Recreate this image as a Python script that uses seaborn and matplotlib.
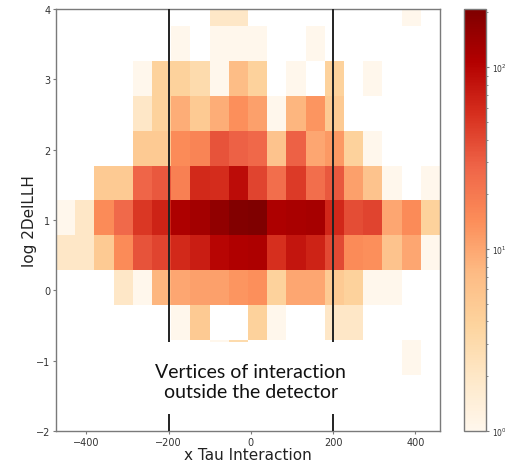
import numpy as np
import pandas as pd
import matplotlib
matplotlib.use("Agg")
import matplotlib.pyplot as plt
from matplotlib.colors import LogNorm
from matplotlib.patches import Rectangle
import seaborn as sns

# Bin edges of the 2D histogram
x_edges = np.linspace(-474, 460, 21)
y_edges = np.linspace(-2.194, 4.254, 14)

# Event counts per bin; rows run from the top y bin down to the bottom one
counts = [
    [0, 0, 0, 0, 0, 0, 0, 0, 2, 2, 0, 0, 0, 0, 0, 0, 0, 0, 1, 0],
    [0, 0, 0, 0, 0, 0, 1, 0, 1, 1, 1, 0, 0, 1, 0, 0, 0, 0, 0, 0],
    [0, 0, 0, 0, 1, 4, 4, 3, 1, 7, 4, 0, 1, 0, 4, 0, 1, 0, 0, 0],
    [0, 0, 0, 0, 2, 4, 9, 5, 9, 14, 11, 1, 8, 13, 5, 0, 0, 0, 0, 0],
    [0, 0, 0, 0, 5, 5, 15, 17, 35, 30, 27, 6, 30, 10, 12, 4, 1, 0, 0, 0],
    [0, 0, 5, 5, 28, 33, 18, 60, 58, 90, 42, 24, 48, 24, 33, 11, 6, 1, 0, 1],
    [1, 2, 15, 26, 50, 65, 115, 130, 165, 200, 209, 115, 120, 125, 62, 38, 42, 10, 15, 4],
    [2, 2, 5, 15, 35, 42, 60, 72, 100, 110, 115, 55, 80, 65, 40, 15, 14, 6, 10, 1],
    [0, 0, 0, 2, 1, 8, 10, 11, 11, 13, 14, 4, 10, 10, 5, 4, 1, 1, 0, 0],
    [0, 0, 0, 0, 0, 0, 1, 5, 0, 0, 4, 1, 0, 0, 2, 2, 0, 0, 0, 0],
    [0, 0, 0, 0, 0, 0, 0, 0, 1, 3, 0, 0, 0, 0, 0, 0, 0, 0, 1, 0],
    [0, 0, 0, 0, 0, 0, 0, 0, 0, 0, 0, 0, 0, 0, 0, 0, 0, 0, 0, 0],
    [0, 0, 0, 0, 0, 0, 0, 0, 0, 0, 0, 0, 0, 0, 0, 0, 0, 0, 0, 0],
]

x_ticks = [-400, -200, 0, 200, 400]
y_ticks = [-2, -1, 0, 1, 2, 3, 4]
detector_edges = [-200, 200]
note = "Vertices of interaction\noutside the detector"

sns.set_style("ticks")
plt.rcParams.update({
    "axes.edgecolor": "#7a7a7a",
    "xtick.color": "#7a7a7a",
    "ytick.color": "#7a7a7a",
    "xtick.labelcolor": "#333333",
    "ytick.labelcolor": "#333333",
    "axes.linewidth": 1.0,
})

grid = np.array(counts, dtype=float)
xc = 0.5 * (x_edges[:-1] + x_edges[1:])
yc = (0.5 * (y_edges[:-1] + y_edges[1:]))[::-1]
X, Y = np.meshgrid(xc, yc)
df = pd.DataFrame({"x": X.ravel(), "y": Y.ravel(), "n": grid.ravel()})

fig = plt.figure(figsize=(5.06, 4.64), dpi=100)
ax = fig.add_axes([56 / 506, 32 / 464, 384 / 506, 422 / 464])
cax = fig.add_axes([464 / 506, 32 / 464, 22 / 506, 422 / 464])

sns.histplot(data=df, x="x", y="y", weights="n", bins=[x_edges, y_edges],
             cmap="OrRd", ax=ax, cbar=False)
mesh = ax.collections[0]
mesh.set_norm(LogNorm(vmin=1, vmax=grid.max()))

for xv in detector_edges:
    ax.axvline(xv, color="#222222", lw=1.4, zorder=3)

ax.add_patch(Rectangle((-245, -1.76), 490, 1.025, facecolor="white",
                       edgecolor="none", zorder=4))
ax.text(0, -1.30, note, ha="center", va="center", fontsize=14,
        family="Lato", color="#111111", linespacing=1.22, zorder=5)

ax.set_xlim(x_edges[0], x_edges[-1])
ax.set_ylim(-2, 4)
ax.set_xticks(x_ticks)
ax.set_yticks(y_ticks)
ax.tick_params(labelsize=7, length=2.5, pad=1.5)
ax.set_xlabel("x Tau Interaction", fontsize=11, color="#222222", labelpad=0)
ax.set_ylabel("log 2DelLLH", fontsize=11, color="#222222", labelpad=-1)
for s in ax.spines.values():
    s.set_visible(True)

cb = fig.colorbar(mesh, cax=cax)
cb.outline.set_edgecolor("#7a7a7a")
cb.ax.tick_params(which="both", labelsize=5.5, colors="#7a7a7a",
                  labelcolor="#333333", pad=1.5)
cb.ax.tick_params(which="major", length=2.5)
cb.ax.tick_params(which="minor", length=1.5)

fig.savefig("out.png", dpi=100)
